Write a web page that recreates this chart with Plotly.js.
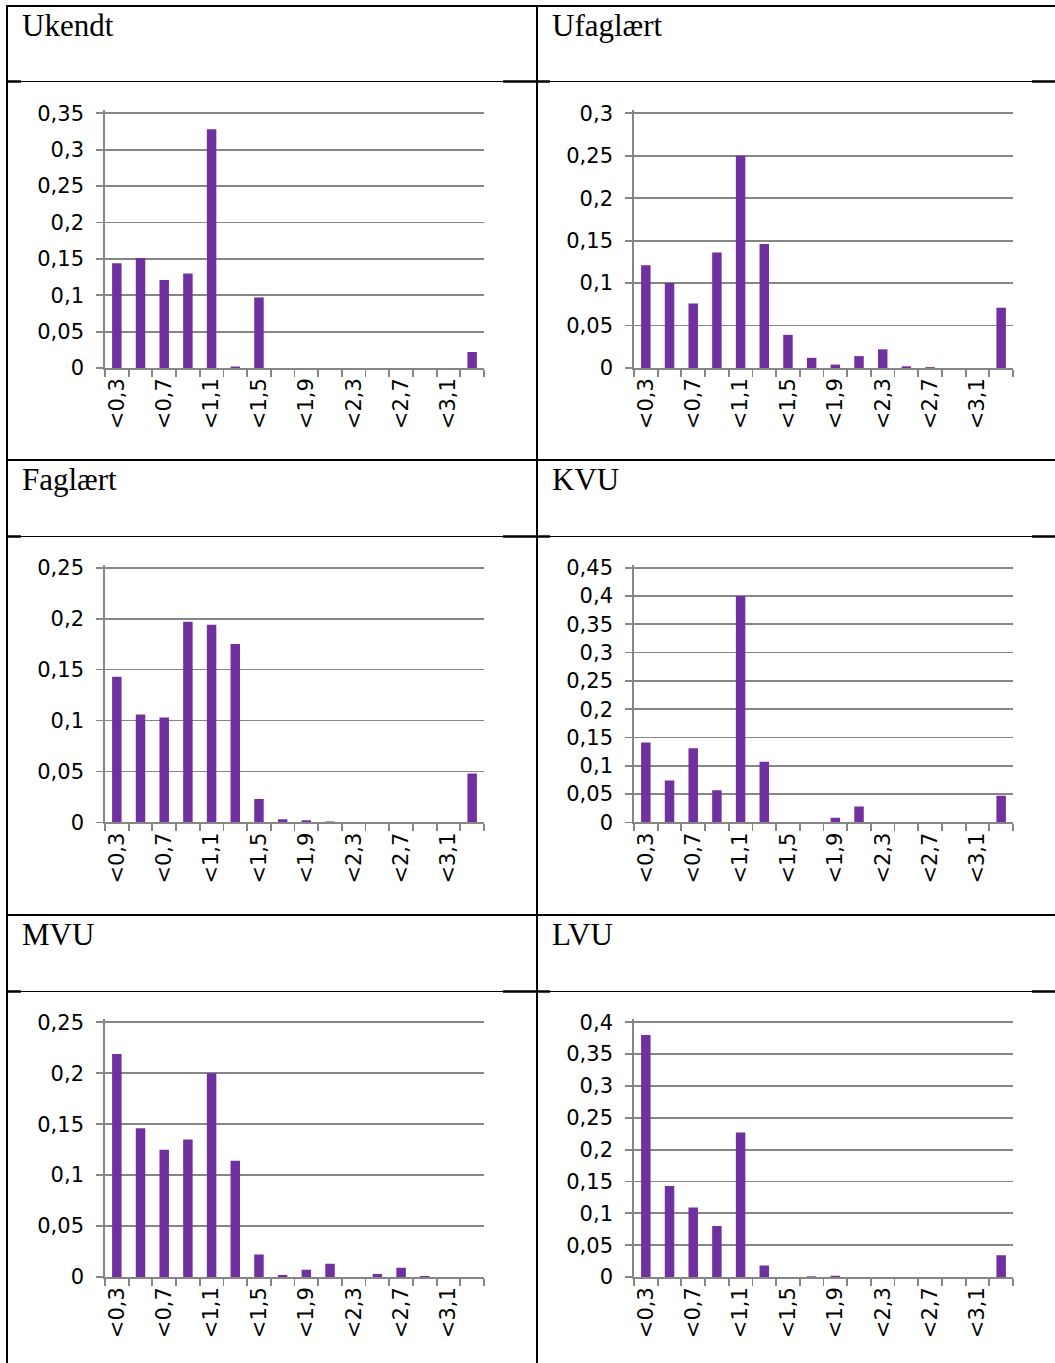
<!DOCTYPE html>
<html><head><meta charset="utf-8">
<script src="https://cdn.plot.ly/plotly-3.0.1.min.js"></script>
<style>html,body{margin:0;padding:0;background:#fff}</style>
</head><body><div id="chart" style="width:1055px;height:1363px"></div>
<script>
// ---- data ----
const categories = ['<0,3','<0,5','<0,7','<0,9','<1,1','<1,3','<1,5','<1,7','<1,9','<2,1','<2,3','<2,5','<2,7','<2,9','<3,1','>3,1'];
const tickLabels = ['<0,3','','<0,7','','<1,1','','<1,5','','<1,9','','<2,3','','<2,7','','<3,1',''];
const panelTitles = ['Ukendt','Ufaglært','Faglært','KVU','MVU','LVU'];
const ukendt   = [0.144,0.151,0.121,0.130,0.328,0.002,0.097,0,0,0,0,0,0,0,0,0.022];
const ufaglaert= [0.121,0.100,0.076,0.136,0.250,0.146,0.039,0.012,0.004,0.014,0.022,0.002,0.001,0,0,0.071];
const faglaert = [0.143,0.106,0.103,0.197,0.194,0.175,0.023,0.003,0.002,0.001,0,0,0,0,0,0.048];
const kvu      = [0.141,0.074,0.131,0.057,0.400,0.107,0,0,0.008,0.028,0,0,0,0,0,0.047];
const mvu      = [0.219,0.146,0.125,0.135,0.200,0.114,0.022,0.002,0.007,0.013,0,0.003,0.009,0.001,0,0];
const lvu      = [0.380,0.143,0.109,0.080,0.227,0.018,0,0.001,0.002,0,0,0,0,0,0,0.034];
const yAxisMax = [0.35,0.30,0.25,0.45,0.25,0.40];
const seriesList = [ukendt, ufaglaert, faglaert, kvu, mvu, lvu];

// ---- layout helpers (pixels -> paper) ----
const W = 1055, H = 1363;
const px = v => v / W;
const py = v => 1 - v / H;
const colX = [[105, 484], [634, 1013]];
const rowTop = [113.3, 567.7, 1022.3];
const plotH = 254.7;
const pad = 3; // extra room above top gridline so it is not clipped
const rowStep = 454.5;

const gridCol = '#868686';
const tickFont = {family: 'DejaVu Sans, Verdana, sans-serif', size: 21, color: '#000'};

const traces = [];
const layout = {
  width: W, height: H,
  margin: {l: 0, r: 0, t: 0, b: 0},
  paper_bgcolor: '#fff', plot_bgcolor: '#fff',
  separators: ',.',
  showlegend: false,
  hovermode: false,
  bargap: 0.6,
  shapes: [], annotations: []
};

seriesList.forEach((vals, i) => {
  const col = i % 2, row = Math.floor(i / 2);
  const sfx = i === 0 ? '' : String(i + 1);
  traces.push({
    type: 'bar', x: categories, y: vals,
    xaxis: 'x' + sfx, yaxis: 'y' + sfx,
    marker: {color: '#7030A0', line: {width: 0}}
  });
  const top = rowTop[row] - pad, bot = rowTop[row] + plotH;
  layout['xaxis' + sfx] = {
    domain: [px(colX[col][0]), px(colX[col][1])],
    anchor: 'y' + sfx,
    type: 'category',
    range: [-0.5, categories.length - 0.5],
    tickmode: 'array', tickvals: categories, ticktext: tickLabels,
    tickson: 'boundaries',
    ticks: 'outside', ticklen: 7, tickwidth: 1.8, tickcolor: gridCol,
    showline: true, linecolor: gridCol, linewidth: 1.8,
    showgrid: false, zeroline: false,
    tickangle: -90, tickfont: tickFont, fixedrange: true
  };
  layout['yaxis' + sfx] = {
    domain: [py(bot), py(top)],
    anchor: 'x' + sfx,
    range: [0, yAxisMax[i] * (plotH + pad) / plotH],
    tick0: 0, dtick: 0.05,
    ticks: 'outside', ticklen: 7, tickwidth: 1.8, tickcolor: gridCol,
    showline: true, linecolor: gridCol, linewidth: 1.8,
    showgrid: true, gridcolor: gridCol, gridwidth: 1.8,
    zeroline: false, tickfont: tickFont, ticklabelstandoff: 8,
    fixedrange: true
  };
  layout.annotations.push({
    text: panelTitles[i], showarrow: false,
    xref: 'paper', yref: 'paper',
    x: px(col === 0 ? 20 : 550), y: py(6 + row * rowStep),
    xanchor: 'left', yanchor: 'top',
    font: {family: 'Liberation Serif, Times New Roman, serif', size: 31, color: '#000'}
  });
});

// ---- table lines ----
function hline(y, x0, x1, w) {
  layout.shapes.push({type: 'line', xref: 'paper', yref: 'paper',
    x0: px(x0), x1: px(x1), y0: py(y), y1: py(y), line: {color: '#000', width: w}});
}
function vline(x, y0, y1, w) {
  layout.shapes.push({type: 'line', xref: 'paper', yref: 'paper',
    x0: px(x), x1: px(x), y0: py(y0), y1: py(y1), line: {color: '#000', width: w}});
}
hline(6, 6, W, 2);
hline(460, 6, W, 2);
hline(915, 6, W, 2);
[81.5, 536.5, 991.5].forEach(y => {
  hline(y, 6, W, 1.2);
  hline(y, 6, 21, 2.5);
  hline(y, 503, 550, 2.5);
  hline(y, 1032, W, 2.5);
});
vline(7, 5, H, 2);
vline(537, 5, H, 2);

Plotly.newPlot('chart', traces, layout, {displayModeBar: false, staticPlot: true});
</script>
</body></html>
